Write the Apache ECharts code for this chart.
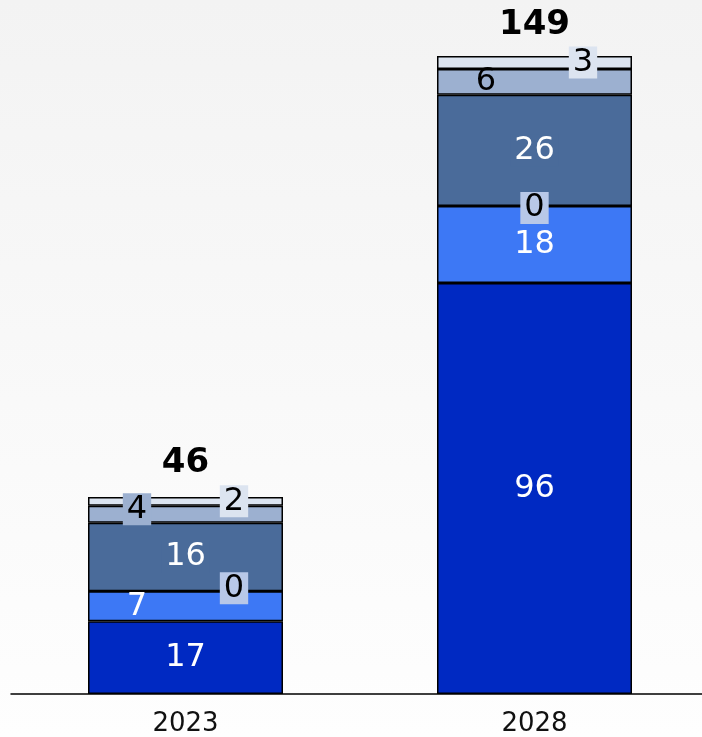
<!DOCTYPE html>
<html>
<head>
<meta charset="utf-8">
<script src="https://cdn.jsdelivr.net/npm/echarts@6/dist/echarts.min.js"></script>
<style>
html,body{margin:0;padding:0;overflow:hidden;width:702px;height:737px;}
#chart{width:709px;height:737px;}
</style>
</head>
<body>
<div id="chart"></div>
<script>
const categories = ['2023', '2028'];
const seriesNames = ['A', 'B', 'C', 'D', 'E', 'F'];
const valuesA = [17, 96];
const valuesB = [7, 18];
const valuesC = [0, 0];
const valuesD = [16, 26];
const valuesE = [4, 6];
const valuesF = [2, 3];
const totals = [46, 149];

const allValues = [valuesA, valuesB, valuesC, valuesD, valuesE, valuesF];
const colors = ['#0029c2', '#3d78f5', '#b8c8e8', '#4a6b9a', '#9cb0d0', '#dce4f0'];
const textColors = ['#fff', '#fff', '#000', '#fff', '#000', '#000'];
const labelShift = {
  1: [-1, 0],
  2: [1, 0],
  4: [-1, -1],
  5: [1, 1]
};
const yShift = {
  2: [-3, 2],
  4: [-5, 0]
};
const totalDistance = [17, 14];
const FONT = 'DejaVu Sans';
const BAR_W = 195;

const series = allValues.map((vals, si) => ({
  name: seriesNames[si],
  type: 'bar',
  stack: 'total',
  barWidth: BAR_W,
  itemStyle: { color: colors[si], borderColor: '#000', borderWidth: 1.5 },
  data: vals.map((v, ci) => {
    const shift = labelShift[si] ? labelShift[si][ci] : 0;
    const dy = yShift[si] ? yShift[si][ci] : 0;
    const boxed = (si >= 2) && !(si === 4 && ci === 1);
    return {
      value: v,
      label: {
        show: true,
        position: 'inside',
        offset: [shift * 48.5, dy],
        color: textColors[si],
        fontFamily: FONT,
        fontSize: 32,
        backgroundColor: boxed ? colors[si] : 'transparent',
        padding: boxed ? [0, 4, 0, 4] : 0,
        lineHeight: 32
      }
    };
  })
}));

series.push({
  name: 'total',
  type: 'bar',
  stack: 'total',
  barWidth: BAR_W,
  itemStyle: { color: 'transparent' },
  data: totals.map((t, ci) => ({
    value: 0,
    label: { distance: totalDistance[ci] }
  })),
  label: {
    show: true,
    position: 'top',
    fontFamily: FONT,
    fontSize: 34,
    fontWeight: 'bold',
    color: '#000',
    formatter: p => totals[p.dataIndex]
  },
  silent: true
});

const chart = echarts.init(document.getElementById('chart'));
chart.setOption({
  animation: false,
  backgroundColor: {
    type: 'linear', x: 0, y: 0, x2: 0, y2: 1,
    colorStops: [{ offset: 0, color: '#f3f3f3' }, { offset: 1, color: '#fefefe' }]
  },
  grid: { left: 11, right: 0, top: 9, bottom: 40 },
  xAxis: {
    type: 'category',
    data: categories,
    axisLine: { lineStyle: { color: '#000', width: 1.5 } },
    axisTick: { show: false },
    axisLabel: { fontFamily: FONT, fontSize: 26, color: '#111', margin: 17 }
  },
  yAxis: {
    type: 'value',
    min: 0,
    max: 160,
    show: false,
    splitLine: { show: false }
  },
  series: series
});
</script>
</body>
</html>
